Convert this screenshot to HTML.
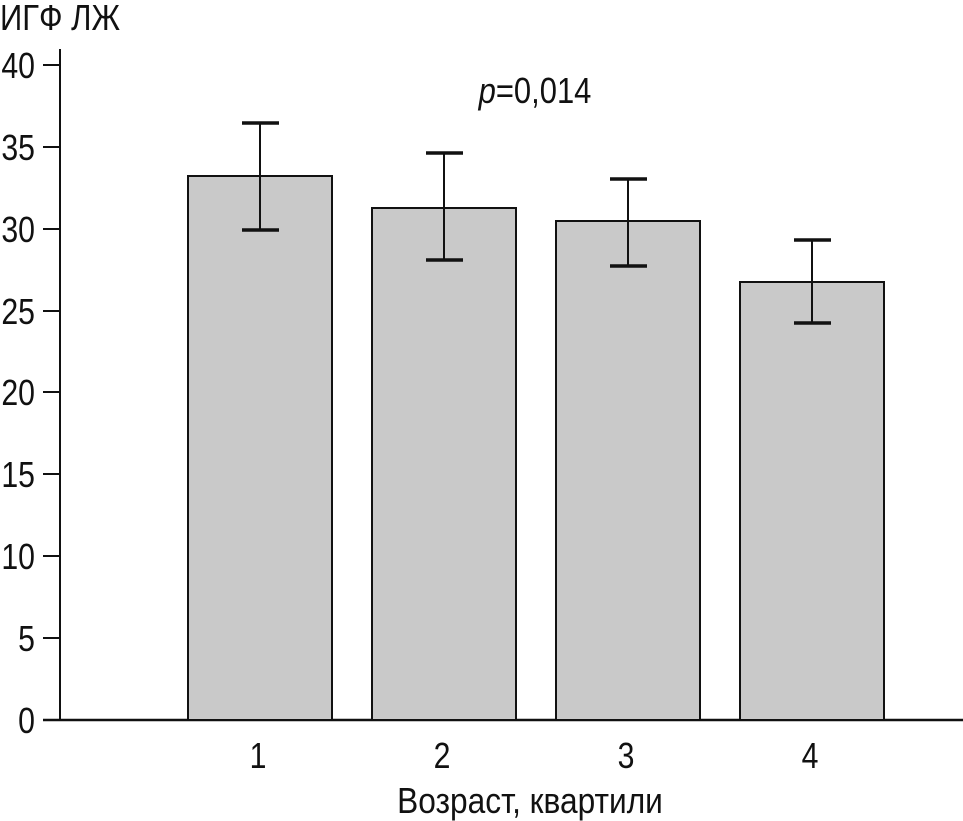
<!DOCTYPE html>
<html><head><meta charset="utf-8"><style>
html,body{margin:0;padding:0;background:#fff;}
svg{display:block;}
text{font-family:"Liberation Sans","DejaVu Sans",sans-serif;fill:#111;}
</style></head><body>
<svg width="963" height="821" viewBox="0 0 963 821" xmlns="http://www.w3.org/2000/svg">
<g font-size="36">
<text transform="translate(0,30) scale(0.86,1)" x="0" y="0">ИГФ ЛЖ</text>
</g>
<line x1="60" y1="49" x2="60" y2="720" stroke="#111" stroke-width="2"/>
<line x1="43" y1="720" x2="963" y2="720" stroke="#111" stroke-width="2.5"/>
<g stroke="#111" stroke-width="2">
<line x1="43" y1="65" x2="60" y2="65"/>
<line x1="43" y1="147" x2="60" y2="147"/>
<line x1="43" y1="229" x2="60" y2="229"/>
<line x1="43" y1="311" x2="60" y2="311"/>
<line x1="43" y1="392" x2="60" y2="392"/>
<line x1="43" y1="474" x2="60" y2="474"/>
<line x1="43" y1="556" x2="60" y2="556"/>
<line x1="43" y1="638" x2="60" y2="638"/>
</g>
<g font-size="36" text-anchor="end">
<text transform="translate(35,78) scale(0.84,1)">40</text>
<text transform="translate(35,160) scale(0.84,1)">35</text>
<text transform="translate(35,242) scale(0.84,1)">30</text>
<text transform="translate(35,324) scale(0.84,1)">25</text>
<text transform="translate(35,405) scale(0.84,1)">20</text>
<text transform="translate(35,487) scale(0.84,1)">15</text>
<text transform="translate(35,569) scale(0.84,1)">10</text>
<text transform="translate(35,651) scale(0.84,1)">5</text>
<text transform="translate(35,733) scale(0.84,1)">0</text>
</g>
<g fill="#c9c9c9" stroke="#111" stroke-width="2">
<rect x="188" y="176" width="144" height="544"/>
<rect x="372" y="208" width="144" height="512"/>
<rect x="556" y="221" width="144" height="499"/>
<rect x="740" y="282" width="144" height="438"/>
</g>
<g stroke="#111" stroke-width="2">
<line x1="260" y1="123" x2="260" y2="230"/>
<line x1="444" y1="153" x2="444" y2="260"/>
<line x1="628" y1="179" x2="628" y2="266"/>
<line x1="812" y1="240" x2="812" y2="323"/>
</g>
<g stroke="#111" stroke-width="3.5">
<line x1="242" y1="123" x2="279" y2="123"/><line x1="242" y1="230" x2="279" y2="230"/>
<line x1="426" y1="153" x2="463" y2="153"/><line x1="426" y1="260" x2="463" y2="260"/>
<line x1="610" y1="179" x2="647" y2="179"/><line x1="610" y1="266" x2="647" y2="266"/>
<line x1="794" y1="240" x2="831" y2="240"/><line x1="794" y1="323" x2="831" y2="323"/>
</g>
<g font-size="36" text-anchor="middle">
<text transform="translate(258,768) scale(0.84,1)">1</text>
<text transform="translate(442,768) scale(0.84,1)">2</text>
<text transform="translate(626,768) scale(0.84,1)">3</text>
<text transform="translate(810,768) scale(0.84,1)">4</text>
<text transform="translate(530,813) scale(0.88,1)">Возраст, квартили</text>
<text transform="translate(535,103) scale(0.86,1)"><tspan font-style="italic">p</tspan>=0,014</text>
</g>
</svg>
</body></html>
